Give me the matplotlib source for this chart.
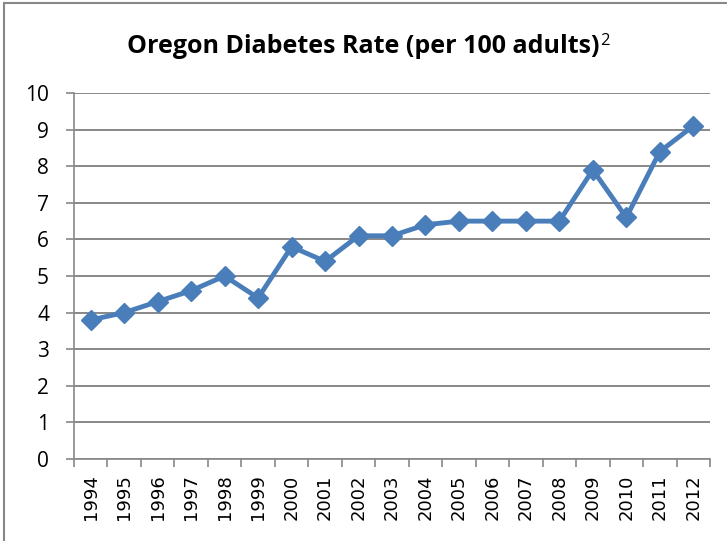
import matplotlib.pyplot as plt
from matplotlib.patches import Rectangle

years = ["1994", "1995", "1996", "1997", "1998", "1999", "2000", "2001", "2002", "2003",
         "2004", "2005", "2006", "2007", "2008", "2009", "2010", "2011", "2012"]
rates = [3.8, 4.0, 4.3, 4.6, 5.0, 4.4, 5.8, 5.4, 6.1, 6.1,
         6.4, 6.5, 6.5, 6.5, 6.5, 7.9, 6.6, 8.4, 9.1]
yticks = [0, 1, 2, 3, 4, 5, 6, 7, 8, 9, 10]

plt.rcParams['font.family'] = ['Open Sans', 'DejaVu Sans']

fig = plt.figure(figsize=(7.27, 5.41), dpi=100)
ax = fig.add_axes([0.1018, 0.1516, 0.8748, 0.6764])

# chart frame (cut off on the right and bottom like the screenshot)
fig.patches.append(Rectangle((4 / 727, -0.05), 1.2, 1 - 3 / 541 + 0.05,
                             transform=fig.transFigure, fill=False,
                             edgecolor="#888888", linewidth=1.5))

x = list(range(len(years)))
ax.plot(x, rates, color="#4a7ebb", linewidth=3.5, marker="D", markersize=10,
        markeredgecolor="#4a7ebb", zorder=3)

ax.set_xlim(-0.5, len(years) - 0.5)
ax.set_ylim(0, 10)
ax.set_yticks(yticks)
ax.set_yticklabels([str(v) for v in yticks], fontsize=15)
ax.set_xticks(x)
ax.set_xticklabels(years, rotation=90, fontsize=13, family="DejaVu Sans")
ax.set_xticks([i - 0.5 for i in range(len(years) + 1)], minor=True)
ax.tick_params(axis="x", which="major", length=0, pad=11)
ax.tick_params(axis="x", which="minor", length=6, width=1.2, color="#888888")
ax.tick_params(axis="y", length=6, width=1.2, color="#888888", pad=12)

ax.grid(axis="y", color="#888888", linewidth=1.4)
ax.set_axisbelow(True)
for s in ["top", "right"]:
    ax.spines[s].set_visible(False)
ax.spines["left"].set_color("#888888")
ax.spines["bottom"].set_color("#888888")
ax.spines["left"].set_linewidth(1.2)
ax.spines["bottom"].set_linewidth(1.2)

title = fig.text(0.5, 1 - 53 / 541, "Oregon Diabetes Rate (per 100 adults)",
                 ha="center", va="baseline", fontsize=18, fontweight="bold")
ax.annotate("2", xy=(1, 1), xycoords=title, xytext=(0.5, 1), textcoords="offset points",
            ha="left", va="top", fontsize=12)

fig.savefig("out.png", dpi=100)
